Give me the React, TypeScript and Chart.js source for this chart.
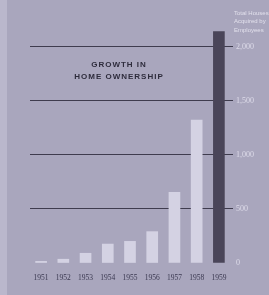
import React, { useEffect, useRef } from "react";
import { Chart, registerables } from "chart.js";

Chart.register(...registerables);

const years = ["1951", "1952", "1953", "1954", "1955", "1956", "1957", "1958", "1959"];
const houses = [15, 35, 90, 175, 200, 290, 653, 1322, 2140];
const yTicks = [500, 1000, 1500, 2000];
const titleLines = ["GROWTH IN", "HOME OWNERSHIP"];
const axisTitleLines = ["Total Houses", "Acquired by", "Employees"];

const BG = "#a9a6bd";
const STRIP = "#bab7cc";
const LIGHT_BAR = "#d4d2e3";
const DARK_BAR = "#4a4559";
const GRID = "#3f3c4e";

const textPlugin = {
  id: "texts",
  beforeDraw(chart: any) {
    const ctx = chart.ctx;
    ctx.save();
    ctx.fillStyle = BG;
    ctx.fillRect(0, 0, chart.width, chart.height);
    ctx.fillStyle = STRIP;
    ctx.fillRect(0, 0, 7, chart.height);
    ctx.restore();
  },
  afterDraw(chart: any) {
    const ctx = chart.ctx;
    ctx.save();
    ctx.fillStyle = "#2e2c3c";
    ctx.font = "bold 8px 'Liberation Sans', Arial, sans-serif";
    ctx.textAlign = "center";
    ctx.textBaseline = "middle";
    try { (ctx as any).letterSpacing = "1px"; } catch (e) {}
    ctx.fillText(titleLines[0], 119, 65);
    ctx.fillText(titleLines[1], 119, 77);
    try { (ctx as any).letterSpacing = "0px"; } catch (e) {}
    ctx.fillStyle = "#e2e0ec";
    ctx.font = "6px 'Liberation Sans', Arial, sans-serif";
    ctx.textAlign = "left";
    axisTitleLines.forEach((t, i) => ctx.fillText(t, 234, 13 + i * 8.5));
    ctx.restore();
  },
};

export default function App() {
  const ref = useRef<HTMLCanvasElement | null>(null);
  useEffect(() => {
    if (!ref.current) return;
    const chart = new Chart(ref.current, {
      type: "bar",
      data: {
        labels: years,
        datasets: [
          {
            data: houses,
            backgroundColor: houses.map((_, i) => (i === houses.length - 1 ? DARK_BAR : LIGHT_BAR)),
            barThickness: 11,
            borderWidth: 0,
          },
        ],
      },
      options: {
        animation: false,
        responsive: false,
        devicePixelRatio: 1,
        layout: { padding: { left: 30, top: 25, right: 0, bottom: 0 } },
        plugins: { legend: { display: false }, tooltip: { enabled: false }, title: { display: false } },
        scales: {
          x: {
            grid: { display: false },
            border: { display: false },
            ticks: {
              color: "#3a3850",
              font: { family: "'Liberation Serif', serif", size: 7.5 },
              padding: 3,
              maxRotation: 0,
            },
            afterFit: (s: any) => { s.height = 32; },
          },
          y: {
            position: "right",
            min: 0,
            max: 2200,
            border: { display: false },
            grid: {
              color: (c: any) => (c.tick && c.tick.value > 0 ? GRID : "rgba(0,0,0,0)"),
              lineWidth: 1,
              drawTicks: true,
              tickLength: 3,
            },
            afterBuildTicks: (s: any) => {
              s.ticks = [0, ...yTicks].map((v) => ({ value: v }));
            },
            ticks: {
              color: "#dedcea",
              font: { family: "'Liberation Serif', serif", size: 8 },
              padding: 3,
              callback: (v: any) => Number(v).toLocaleString("en-US"),
            },
            afterFit: (s: any) => { s.width = 39; },
          },
        },
      },
      plugins: [textPlugin],
    });
    return () => chart.destroy();
  }, []);
  return (
    <div style={{ position: "fixed", left: 0, top: 0, width: 269, height: 295, background: BG }}>
      <canvas ref={ref} width={269} height={295} style={{ display: "block" }} />
    </div>
  );
}
